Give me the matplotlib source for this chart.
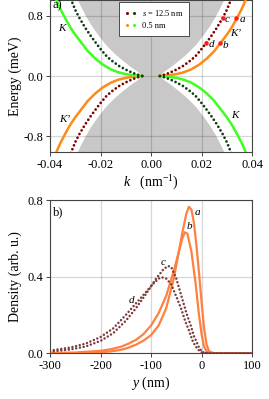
import numpy as np
import matplotlib.pyplot as plt
from matplotlib.lines import Line2D
from matplotlib.legend_handler import HandlerTuple

plt.rcParams['font.family'] = ['Liberation Serif', 'DejaVu Serif']
plt.rcParams['mathtext.fontset'] = 'custom'
plt.rcParams['mathtext.rm'] = 'Liberation Serif'
plt.rcParams['mathtext.it'] = 'Liberation Serif:italic'
plt.rcParams['axes.unicode_minus'] = False

# panel a) dispersion, |k| (nm^-1) vs |E| (meV), one branch per width
k_wide = [0.0035, 0.0055, 0.0075, 0.0100, 0.0125, 0.0150, 0.0175, 0.0200, 0.0216,
          0.0240, 0.0260, 0.0283, 0.0300, 0.0318]
e_wide = [0.0, 0.02, 0.045, 0.085, 0.13, 0.19, 0.26, 0.36, 0.43,
          0.54, 0.64, 0.77, 0.88, 1.03]
k_narrow = [0.0035, 0.0070, 0.0100, 0.0130, 0.0160, 0.0190, 0.0220, 0.0250, 0.0275,
            0.0300, 0.0320, 0.0340, 0.0360, 0.0377]
e_narrow = [0.0, 0.010, 0.025, 0.05, 0.09, 0.15, 0.23, 0.33, 0.44,
            0.55, 0.65, 0.77, 0.90, 1.03]
# edge of the shaded continuum
k_edge = [0.0035, 0.0050, 0.0080, 0.0110, 0.0145, 0.0180, 0.0210, 0.0235, 0.0258, 0.0278, 0.0295]
e_edge = [0.0, 0.05, 0.12, 0.20, 0.30, 0.42, 0.55, 0.67, 0.80, 0.93, 1.05]

# marked states
pt_names = ['a', 'b', 'c', 'd']
pt_k = [0.0338, 0.0272, 0.0283, 0.0216]
pt_e = [0.77, 0.436, 0.77, 0.436]

# panel b) densities vs y (nm)
y_a = [-300, -250, -200, -180, -160, -145, -130, -115, -100, -85, -70, -55, -45, -38, -30, -25,
       -20, -15, -10, -5, 0, 5, 10, 15, 25, 100]
d_a = [0.0, 0.001, 0.005, 0.01, 0.018, 0.029, 0.045, 0.066, 0.095, 0.145, 0.235, 0.39, 0.53,
       0.63, 0.73, 0.765, 0.75, 0.68, 0.56, 0.42, 0.27, 0.13, 0.045, 0.01, 0.0, 0.0]
y_b = [-300, -250, -200, -180, -160, -145, -130, -115, -100, -85, -70, -55, -45, -38, -33, -28,
       -20, -12, -5, 0, 5, 10, 20, 100]
d_b = [0.001, 0.004, 0.013, 0.021, 0.034, 0.05, 0.07, 0.1, 0.145, 0.21, 0.3, 0.43, 0.53,
       0.6, 0.632, 0.625, 0.53, 0.37, 0.2, 0.1, 0.035, 0.01, 0.0, 0.0]
y_c = [-300, -260, -230, -200, -175, -150, -130, -110, -90, -75, -66,
       -60, -50, -40, -30, -22, -15, -10, -5, 0, 5, 15, 100]
d_c = [0.008, 0.02, 0.035, 0.065, 0.105, 0.17, 0.235, 0.31, 0.39, 0.44, 0.456,
       0.45, 0.39, 0.30, 0.21, 0.15, 0.09, 0.06, 0.03, 0.012, 0.003, 0.0, 0.0]
y_d = [-300, -260, -230, -200, -175, -150, -130, -110, -95, -85, -79,
       -70, -60, -49, -40, -32, -25, -17, -10, -5, 0, 10, 100]
d_d = [0.014, 0.03, 0.05, 0.085, 0.13, 0.2, 0.26, 0.32, 0.365, 0.39, 0.397,
       0.39, 0.36, 0.29, 0.23, 0.165, 0.12, 0.06, 0.03, 0.015, 0.005, 0.0, 0.0]

dark_red = '#800000'
dark_green = '#123c12'
orange = '#ff8a14'
green = '#3cff1e'
brown = '#7a3a3a'
coral = '#ff8040'
dots = (0, (0.01, 1.5))

fig = plt.figure(figsize=(2.69, 3.99), dpi=100)
ax1 = fig.add_axes([0.186, 0.619, 0.751, 0.381])
ax2 = fig.add_axes([0.186, 0.1145, 0.751, 0.384])

# continuum (hourglass): upper and lower lobes
ke = np.array(k_edge)
ee = np.array(e_edge)
ax1.fill(np.concatenate([-ke[::-1], ke]), np.concatenate([ee[::-1], ee]),
         color='#c8c8c8', lw=0, zorder=0.5)
ax1.fill(np.concatenate([-ke[::-1], ke]), np.concatenate([-ee[::-1], -ee]),
         color='#c8c8c8', lw=0, zorder=0.5)

kw = np.array(k_wide)
ew = np.array(e_wide)
kn = np.array(k_narrow)
en = np.array(e_narrow)
# K' branch: E has sign of k ; K branch: opposite sign
ax1.plot(kn, en, color=orange, lw=1.8, zorder=3)
ax1.plot(-kn, -en, color=orange, lw=1.8, zorder=3)
ax1.plot(-kn, en, color=green, lw=1.8, zorder=3)
ax1.plot(kn, -en, color=green, lw=1.8, zorder=3)
for sx, sy, c in [(1, 1, dark_red), (-1, -1, dark_red), (-1, 1, dark_green), (1, -1, dark_green)]:
    ax1.plot(sx * kw, sy * ew, color=c, lw=2.0, ls=dots, dash_capstyle='round', zorder=3)

ax1.plot(pt_k, pt_e, 'o', color='#ff1a1a', ms=3.2, mec='none', zorder=4)
txt_dk = {'a': 0.0024, 'b': 0.0022, 'c': 0.0018, 'd': 0.0022}
txt_de = {'a': -0.02, 'b': -0.03, 'c': -0.02, 'd': -0.01}
for n, k, e in zip(pt_names, pt_k, pt_e):
    ax1.text(k + txt_dk[n], e + txt_de[n], n, fontsize=8, style='italic', ha='center', va='center')

ax1.text(-0.0355, 0.63, 'K', fontsize=8, style='italic', ha='center', va='center')
ax1.text(-0.0340, -0.58, 'K\u2019', fontsize=8, style='italic', ha='center', va='center')
ax1.text(0.0330, -0.53, 'K', fontsize=8, style='italic', ha='center', va='center')
ax1.text(0.0336, 0.56, 'K\u2019', fontsize=8, style='italic', ha='center', va='center')
ax1.text(0.012, 1.005, 'a)', transform=ax1.transAxes, fontsize=9, va='top', ha='left')

ax1.set_xlim(-0.04, 0.04)
ax1.set_ylim(-1.013, 1.013)
ax1.set_xticks([-0.04, -0.02, 0.0, 0.02, 0.04])
ax1.set_xticklabels(['-0.04', '-0.02', '0.00', '0.02', '0.04'])
ax1.set_yticks([-0.8, 0.0, 0.8])
ax1.set_yticklabels(['-0.8', '0.0', '0.8'])
ax1.set_xlabel(r'$k$   (nm$^{-1}$)', fontsize=10, labelpad=2)
ax1.set_ylabel('Energy (meV)', fontsize=10, labelpad=1)

h1 = (Line2D([], [], ls='none', marker='o', ms=2.2, color=dark_red, mec='none'),
      Line2D([], [], ls='none', marker='o', ms=2.2, color=dark_green, mec='none'))
h2 = (Line2D([], [], ls='none', marker='o', ms=2.2, color=orange, mec='none'),
      Line2D([], [], ls='none', marker='o', ms=2.2, color=green, mec='none'))
leg = ax1.legend([h1, h2], [r'$s$ = 12.5 nm', '0.5 nm'],
                 handler_map={tuple: HandlerTuple(ndivide=None, pad=0.3)},
                 loc='upper left', bbox_to_anchor=(0.342, 0.987), borderaxespad=0,
                 fontsize=6, handlelength=1.4, handletextpad=0.6, borderpad=0.7,
                 labelspacing=0.5, fancybox=False, framealpha=1)
leg.get_frame().set_edgecolor('#333333')
leg.get_frame().set_linewidth(0.6)
leg.set_zorder(5)

# panel b
ax2.plot(y_a, d_a, color=coral, lw=1.6, zorder=3)
ax2.plot(y_b, d_b, color=coral, lw=1.6, zorder=3)
ax2.plot(y_c, d_c, color=brown, lw=1.8, ls=dots, dash_capstyle='round', zorder=3)
ax2.plot(y_d, d_d, color=brown, lw=1.8, ls=dots, dash_capstyle='round', zorder=3)
ax2.text(-9, 0.733, 'a', fontsize=8, style='italic', ha='center', va='center')
ax2.text(-25, 0.66, 'b', fontsize=8, style='italic', ha='center', va='center')
ax2.text(-76, 0.475, 'c', fontsize=8, style='italic', ha='center', va='center')
ax2.text(-138, 0.275, 'd', fontsize=8, style='italic', ha='center', va='center')
ax2.text(0.015, 0.96, 'b)', transform=ax2.transAxes, fontsize=9, va='top', ha='left')

ax2.set_xlim(-300, 100)
ax2.set_ylim(0, 0.8)
ax2.set_xticks([-300, -200, -100, 0, 100])
ax2.set_xticklabels(['-300', '-200', '-100', '0', '100'])
ax2.set_yticks([0.0, 0.4, 0.8])
ax2.set_yticklabels(['0.0', '0.4', '0.8'])
ax2.set_xlabel(r'$y$ (nm)', fontsize=10, labelpad=2)
ax2.set_ylabel('Density (arb. u.)', fontsize=10, labelpad=4)

for ax in (ax1, ax2):
    ax.grid(True, color='k', alpha=0.16, lw=0.9)
    ax.tick_params(labelsize=9, length=3, width=0.7, color='#444444', pad=2)
    for sp in ax.spines.values():
        sp.set_color('#444444')
        sp.set_linewidth(0.8)

fig.savefig('out.png', dpi=100)
